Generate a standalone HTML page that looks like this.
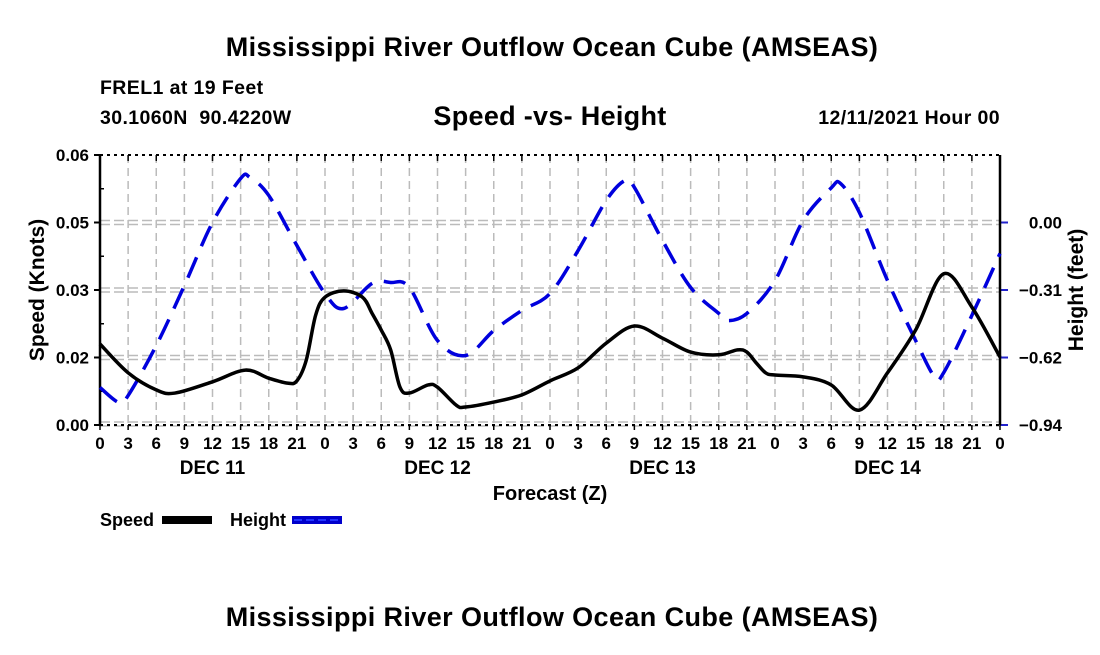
<!DOCTYPE html>
<html><head><meta charset="utf-8"><style>
html,body{margin:0;padding:0;background:#fff;}
svg text{font-family:"Liberation Sans",Arial,sans-serif;font-weight:bold;fill:#000;white-space:pre;}
</style></head><body>
<svg id="chart" width="1100" height="650" viewBox="0 0 1100 650" xmlns="http://www.w3.org/2000/svg">
<rect width="1100" height="650" fill="#fff"/>
<text x="552" y="56" font-size="27" letter-spacing="0.4" text-anchor="middle">Mississippi River Outflow Ocean Cube (AMSEAS)</text>
<text x="100" y="94" font-size="19.5" letter-spacing="0.4">FREL1 at 19 Feet</text>
<text x="100" y="124" font-size="19.5" letter-spacing="0.4">30.1060N  90.4220W</text>
<text x="550" y="125" font-size="27" letter-spacing="0.3" text-anchor="middle">Speed -vs- Height</text>
<text x="1000" y="124" font-size="19.5" letter-spacing="0.4" text-anchor="end">12/11/2021 Hour 00</text>
<g id="grid"></g>
<g id="axes"></g>
<g id="series"></g>
<text transform="translate(44,290) rotate(-90)" font-size="21" text-anchor="middle">Speed (Knots)</text>
<text transform="translate(1083,290) rotate(-90)" font-size="21" text-anchor="middle">Height (feet)</text>
<text x="550" y="500" font-size="20" text-anchor="middle">Forecast (Z)</text>
<g>
<text x="100" y="526" font-size="18">Speed</text>
<rect x="162" y="516" width="50" height="8" fill="#000"/>
<text x="230" y="526" font-size="18">Height</text>
<rect x="292" y="516" width="50" height="8" fill="#0000cc"/>
<line x1="294" y1="520" x2="342" y2="520" stroke="#2233ff" stroke-width="2" stroke-dasharray="8,4"/>
</g>
<text x="552" y="626" font-size="27" letter-spacing="0.4" text-anchor="middle">Mississippi River Outflow Ocean Cube (AMSEAS)</text>
</svg>
<script>
const speedHours=[0,3,6,8,12,15.5,18,20,21,22,23,24,26,28,29,30,31,32,33,35,36,38,39,42,45,48,51,54,57,60,63,66,68,69,70,71,72,75,78,81,84,87,90,93,96];
const speedValues=[0.018,0.0116,0.0078,0.0071,0.0096,0.0122,0.0104,0.0093,0.0098,0.0144,0.0244,0.0284,0.0298,0.0284,0.0249,0.0211,0.0167,0.0084,0.0071,0.0089,0.0084,0.0044,0.004,0.0051,0.0067,0.0098,0.0127,0.0182,0.022,0.0193,0.0162,0.0156,0.0167,0.0162,0.0138,0.0116,0.0111,0.0107,0.0089,0.0033,0.0116,0.0211,0.0336,0.0262,0.0151];
const heightHours=[0,2,3,6,9,12,15,16,18,21,24,26,29,31,33,36,39,42,45,48,51,54,56,57,60,63,66,67,69,72,75,78,79,81,84,87,89,90,93,96];
const heightValues=[-0.762,-0.831,-0.799,-0.568,-0.291,0,0.203,0.208,0.125,-0.106,-0.328,-0.397,-0.282,-0.277,-0.3,-0.545,-0.614,-0.499,-0.406,-0.328,-0.129,0.102,0.194,0.162,-0.083,-0.3,-0.42,-0.453,-0.42,-0.268,0.009,0.16,0.18,0.046,-0.268,-0.545,-0.711,-0.693,-0.429,-0.143];
const leftTickValues=[0,0.015,0.03,0.045,0.06];
const leftTickLabels=["0.00","0.02","0.03","0.05","0.06"];
const rightTickValues=[-0.935,-0.6234,-0.3117,0];
const rightTickLabels=["\u22120.94","\u22120.62","\u22120.31","0.00"];
const hourTickLabels=["0","3","6","9","12","15","18","21"];
const dayLabels=["DEC 11","DEC 12","DEC 13","DEC 14"];

const X0=100,X1=1000,Y0=425,Y1=155;
const xs=h=>X0+(h/96)*(X1-X0);
const ySpeed=v=>Y0-(v/0.06)*(Y0-Y1);
const yHeight=v=>Y0-((v+0.935)/(0.3117+0.935))*(Y0-Y1);
const NS="http://www.w3.org/2000/svg";
function mk(tag,attrs,parent){const e=document.createElementNS(NS,tag);for(const k in attrs)e.setAttribute(k,attrs[k]);parent.appendChild(e);return e;}
const grid=document.getElementById('grid'),axes=document.getElementById('axes'),series=document.getElementById('series');

for(let h=3;h<96;h+=3){
  const l=mk('line',{x1:xs(h),x2:xs(h),y1:Y1,y2:Y0,stroke:'#bbb','stroke-width':1.5,'stroke-dasharray':'8,5'},grid);
  
  
}
leftTickValues.forEach((v,i)=>{
  const y=ySpeed(v);
  if(i>0&&i<leftTickValues.length-1){
    [-2,2].forEach(d=>{const g=mk('line',{x1:X0,x2:X1,y1:y+d,y2:y+d,stroke:'#bbb','stroke-width':1.5,'stroke-dasharray':'10,4'},grid);
    
    });
  }
  mk('line',{x1:X0-6,x2:X0,y1:y,y2:y,stroke:'#000','stroke-width':2},axes);
  const t=mk('text',{x:X0-11,y:y+6,'font-size':17,'text-anchor':'end'},axes);t.textContent=leftTickLabels[i];
  
  
});
for(let i=0;i<8;i++){const y=Y0-(i+1)*(Y0-Y1)/8; if(i%2==0) mk('line',{x1:X0,x2:X0+4,y1:y,y2:y,stroke:'#000','stroke-width':1.5},axes);}
rightTickValues.forEach((v,i)=>{
  const y=yHeight(v);
  mk('line',{x1:X1,x2:X1+8,y1:y,y2:y,stroke:'#2222cc','stroke-width':2},axes);
  const t=mk('text',{x:X1+62,y:y+6,'font-size':17,'text-anchor':'end'},axes);t.textContent=rightTickLabels[i];
  
  
});
[-2,2].forEach(d=>mk('line',{x1:X0,x2:X1,y1:Y0+d-1,y2:Y0+d-1,stroke:'#bbb','stroke-width':1.5,'stroke-dasharray':'10,4'},grid));
mk('line',{x1:X0,x2:X0,y1:Y1,y2:Y0,stroke:'#000','stroke-width':2.5},axes);
mk('line',{x1:X1,x2:X1,y1:Y1,y2:Y0,stroke:'#000','stroke-width':2.5},axes);
mk('line',{x1:X0,x2:X1,y1:Y1,y2:Y1,stroke:'#000','stroke-width':2,'stroke-dasharray':'3,4'},axes);
mk('line',{x1:X0,x2:X1,y1:Y0,y2:Y0,stroke:'#000','stroke-width':2,'stroke-dasharray':'3,4'},axes);
for(let h=0;h<=96;h+=3){
  mk('line',{x1:xs(h),x2:xs(h),y1:Y1,y2:Y1+6,stroke:'#000','stroke-width':1.5},axes);
  mk('line',{x1:xs(h),x2:xs(h),y1:Y0,y2:Y0+5,stroke:'#000','stroke-width':1.5},axes);
  const t=mk('text',{x:xs(h),y:Y0+24,'font-size':17,'text-anchor':'middle'},axes);t.textContent=hourTickLabels[(h/3)%8];
  
  
}
dayLabels.forEach((d,i)=>{
  const t=mk('text',{x:xs(i*24+12),y:Y0+49,'font-size':19,'text-anchor':'middle'},axes);t.textContent=d;
  
  
});
function smooth(pts){
  let d='M'+pts[0][0]+','+pts[0][1];
  for(let i=0;i<pts.length-1;i++){
    const p0=pts[Math.max(0,i-1)],p1=pts[i],p2=pts[i+1],p3=pts[Math.min(pts.length-1,i+2)];
    const c1x=p1[0]+(p2[0]-p0[0])/6,c1y=p1[1]+(p2[1]-p0[1])/6;
    const c2x=p2[0]-(p3[0]-p1[0])/6,c2y=p2[1]-(p3[1]-p1[1])/6;
    d+=' C'+c1x+','+c1y+' '+c2x+','+c2y+' '+p2[0]+','+p2[1];
  }
  return d;
}
const hp=mk('path',{d:smooth(heightHours.map((h,i)=>[xs(h),yHeight(heightValues[i])])),fill:'none',stroke:'#0000dd','stroke-width':3.5,'stroke-dasharray':'22,12'},series);


const sp=mk('path',{d:smooth(speedHours.map((h,i)=>[xs(h),ySpeed(speedValues[i])])),fill:'none',stroke:'#000','stroke-width':3.5},series);


</script>
</body></html>
